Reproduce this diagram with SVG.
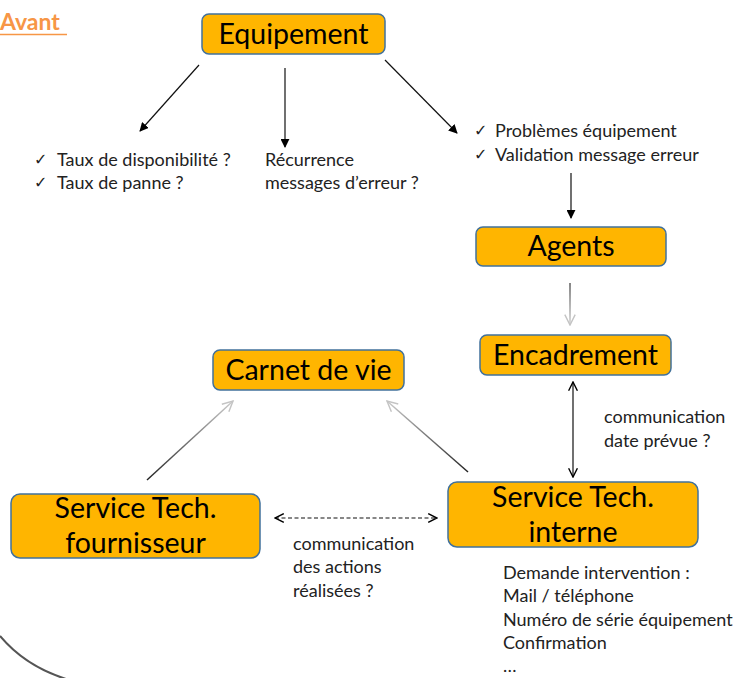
<svg xmlns="http://www.w3.org/2000/svg" width="741" height="678" viewBox="0 0 741 678">
<style>
.box{fill:#FFB500;stroke:#41719C;stroke-width:1.5}
.big{font-family:Lato,"Liberation Sans",sans-serif;font-size:28.5px;fill:#000;text-anchor:middle}
.t{font-family:Lato,"Liberation Sans",sans-serif;font-size:18px;fill:#222}
.ck{font-family:"DejaVu Sans",sans-serif;font-size:16px;fill:#222}
.blk{stroke:#111;stroke-width:1.2;fill:none}
</style>
<defs>
<marker id="ah" viewBox="0 0 10 10" refX="9" refY="5" markerWidth="9" markerHeight="9" orient="auto" markerUnits="userSpaceOnUse">
<path d="M0,0 L10,5 L0,10 z" fill="#000"/>
</marker>
<marker id="oa" viewBox="0 0 10 10" refX="9" refY="5" markerWidth="11" markerHeight="11" orient="auto-start-reverse" markerUnits="userSpaceOnUse">
<path d="M1,1 L9,5 L1,9" fill="none" stroke="#000" stroke-width="1.3"/>
</marker>
<marker id="og" viewBox="0 0 10 10" refX="9" refY="5" markerWidth="13" markerHeight="13" orient="auto" markerUnits="userSpaceOnUse">
<path d="M1,1 L9,5 L1,9" fill="none" stroke="#c4c4c4" stroke-width="1.1"/>
</marker>
<linearGradient id="g1" gradientUnits="userSpaceOnUse" x1="570" y1="283" x2="570" y2="325">
<stop offset="0" stop-color="#444"/><stop offset="1" stop-color="#ccc"/>
</linearGradient>
<linearGradient id="g2" gradientUnits="userSpaceOnUse" x1="147" y1="480" x2="233" y2="401">
<stop offset="0" stop-color="#222"/><stop offset="1" stop-color="#ccc"/>
</linearGradient>
<linearGradient id="g3" gradientUnits="userSpaceOnUse" x1="468" y1="472" x2="387" y2="401">
<stop offset="0" stop-color="#222"/><stop offset="1" stop-color="#ccc"/>
</linearGradient>
</defs>
<rect width="741" height="678" fill="#fff"/>

<g id="title">
<text x="0" y="30" font-family="Lato,'Liberation Sans',sans-serif" font-size="23" font-weight="bold" fill="#F79646">Avant</text>
<line x1="0" y1="34.5" x2="67" y2="34.5" stroke="#F79646" stroke-width="1.5"/>
</g>

<g id="connectors">
<line class="blk" x1="199" y1="65" x2="140" y2="131" marker-end="url(#ah)"/>
<line class="blk" x1="285" y1="68" x2="285" y2="147" marker-end="url(#ah)"/>
<line class="blk" x1="385" y1="60" x2="457" y2="133" marker-end="url(#ah)"/>
<line class="blk" x1="571" y1="173" x2="571" y2="218" marker-end="url(#ah)"/>
<line x1="570" y1="283" x2="570" y2="325" stroke="url(#g1)" stroke-width="1.3" marker-end="url(#og)"/>
<line x1="147" y1="480" x2="233" y2="401" stroke="url(#g2)" stroke-width="1.5" marker-end="url(#og)"/>
<line x1="468" y1="472" x2="387" y2="401" stroke="url(#g3)" stroke-width="1.5" marker-end="url(#og)"/>
<line class="blk" x1="573" y1="382" x2="573" y2="477" marker-start="url(#oa)" marker-end="url(#oa)"/>
<line x1="275" y1="518" x2="437" y2="518" stroke="#111" stroke-width="1.2" stroke-dasharray="4,2.5" marker-start="url(#oa)" marker-end="url(#oa)"/>
</g>

<g id="equipement">
<rect class="box" x="202" y="14" width="183" height="40" rx="7"/>
<text class="big" x="293.5" y="44">Equipement</text>
</g>
<g id="agents">
<rect class="box" x="476" y="227" width="190" height="39" rx="7"/>
<text class="big" x="571" y="256">Agents</text>
</g>
<g id="encadrement">
<rect class="box" x="480" y="335" width="191" height="40" rx="7"/>
<text class="big" x="575.5" y="365">Encadrement</text>
</g>
<g id="carnet">
<rect class="box" x="213" y="350" width="191" height="40" rx="7"/>
<text class="big" x="308.5" y="380">Carnet de vie</text>
</g>
<g id="fournisseur">
<rect class="box" x="11" y="494" width="249" height="64" rx="9"/>
<text class="big" x="135.5" y="518">Service Tech.</text>
<text class="big" x="135.5" y="553">fournisseur</text>
</g>
<g id="interne">
<rect class="box" x="448" y="482" width="250" height="65" rx="9"/>
<text class="big" x="573" y="507">Service Tech.</text>
<text class="big" x="573" y="542">interne</text>
</g>

<g id="labels">
<text class="ck" x="34" y="165">✓</text>
<text class="t" x="57" y="166">Taux de disponibilité ?</text>
<text class="ck" x="34" y="188">✓</text>
<text class="t" x="57" y="189">Taux de panne ?</text>
<text class="t" x="265" y="166">Récurrence</text>
<text class="t" x="265" y="189">messages d’erreur ?</text>
<text class="ck" x="474" y="136">✓</text>
<text class="t" x="495" y="137">Problèmes équipement</text>
<text class="ck" x="474" y="160">✓</text>
<text class="t" x="495" y="161">Validation message erreur</text>
<text class="t" x="604" y="423">communication</text>
<text class="t" x="604" y="447">date prévue ?</text>
<text class="t" x="293" y="550">communication</text>
<text class="t" x="293" y="573">des actions</text>
<text class="t" x="293" y="597">réalisées ?</text>
<text class="t" x="503" y="579">Demande intervention :</text>
<text class="t" x="503" y="602">Mail / téléphone</text>
<text class="t" x="503" y="626">Numéro de série équipement</text>
<text class="t" x="503" y="649">Confirmation</text>
<text class="t" x="503" y="672">…</text>
</g>
<path d="M0,636 Q25,666 66,679" fill="none" stroke="#555" stroke-width="2"/>
</svg>
